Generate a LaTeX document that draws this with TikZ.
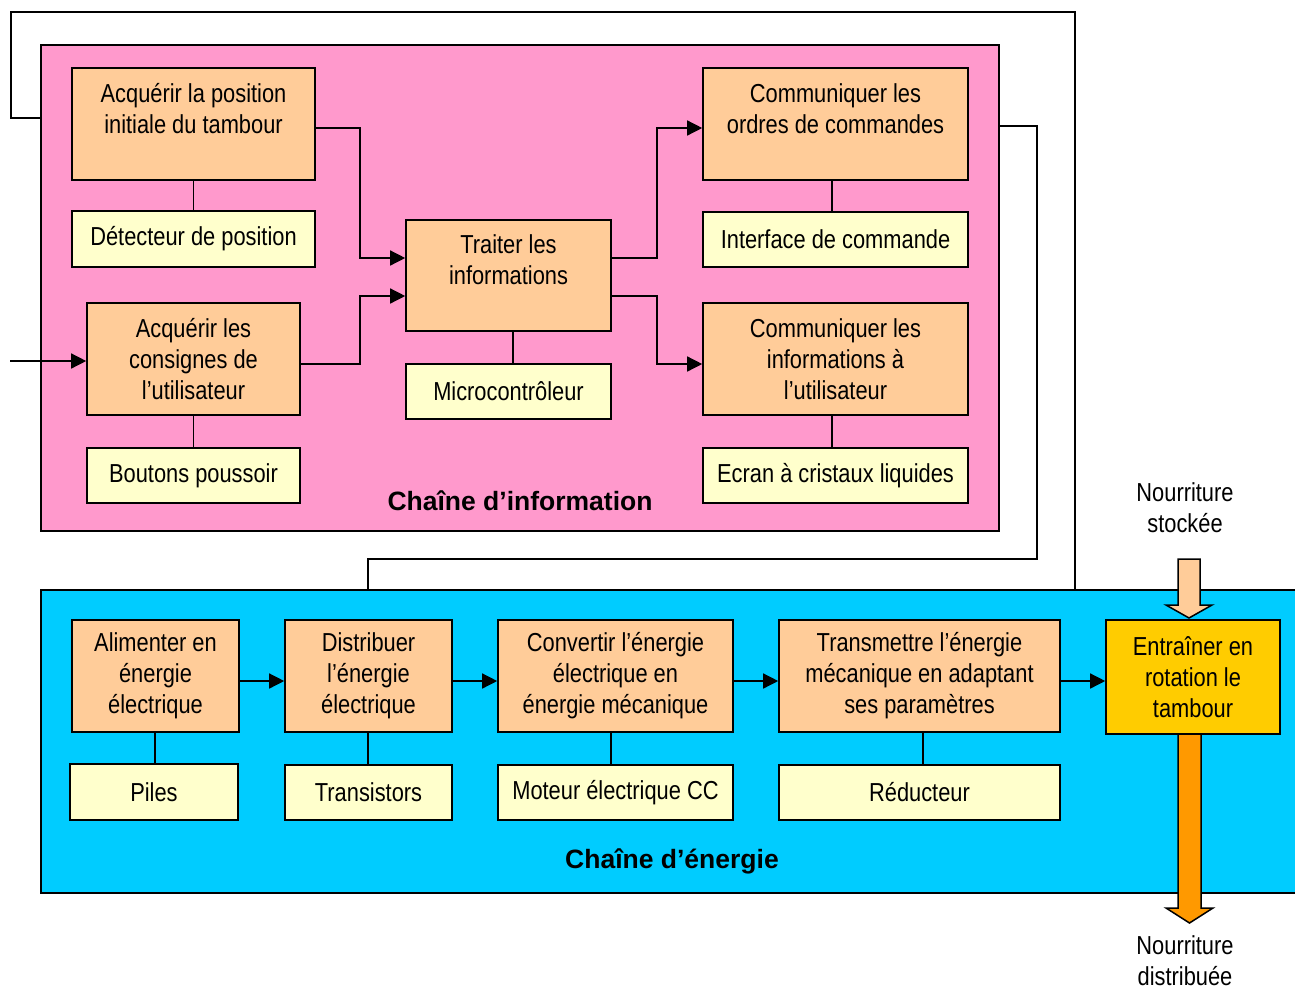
\documentclass[tikz,border=0pt]{standalone}
\usepackage{fontspec}
\setmainfont{Liberation Sans}[FakeStretch=0.84]
\newfontfamily\labfont{Liberation Sans}
\usetikzlibrary{arrows.meta}
\definecolor{peach}{HTML}{FFCC99}
\definecolor{lightyel}{HTML}{FFFFCC}
\definecolor{pinkbg}{HTML}{FF99CC}
\definecolor{bluebg}{HTML}{00CCFF}
\definecolor{gold}{HTML}{FFCC00}
\definecolor{orangearr}{HTML}{FF9900}
\tikzset{
  base/.style={draw=black, line width=1.6pt, inner sep=0pt, align=center,
    font=\fontsize{26}{31}\selectfont},
  fbox/.style={base, fill=peach},
  cbox/.style={base, fill=lightyel},
  frame/.style={draw=black, line width=1.5pt, inner sep=0pt},
  conn/.style={draw=black, line width=1.4pt},
  arr/.style={conn, -{Triangle[length=15pt,width=15pt]}},
  biglab/.style={font=\labfont\bfseries\fontsize{26.5}{31}\selectfont},
  txt/.style={align=center, font=\fontsize{26}{31}\selectfont},
  bigarrow/.style={draw=black, line width=1.5pt, line join=miter}
}
\begin{document}
\begin{tikzpicture}[x=1pt,y=-1pt]
\clip (0,0) rectangle (1295,991);
\fill[white] (0,0) rectangle (1295,991);

% frames
\node[frame, fill=pinkbg, minimum width=958pt, minimum height=486pt] (pinkf) at (520,288) {};
\node[frame, fill=bluebg, minimum width=1279pt, minimum height=303pt] (bluef) at (680.5,741.5) {};

% information chain
\node[fbox, minimum width=243pt, minimum height=112pt] (a1) at (193.5,124) {Acquérir la position\\initiale du tambour\\\mbox{}};
\node[cbox, minimum width=243pt, minimum height=56pt] (d1) at (193.5,239) {Détecteur de position};
\node[fbox, minimum width=213pt, minimum height=112pt] (a2) at (193.5,359) {Acquérir les\\consignes de\\l’utilisateur};
\node[cbox, minimum width=213pt, minimum height=55pt] (d2) at (193.5,475.5) {Boutons poussoir};
\node[fbox, minimum width=205pt, minimum height=111pt] (t) at (508.5,275.5) {Traiter les\\informations\\\mbox{}};
\node[cbox, minimum width=205pt, minimum height=55pt] (m) at (508.5,391.5) {Microcontrôleur};
\node[fbox, minimum width=265pt, minimum height=112pt] (c1) at (835.5,124) {Communiquer les\\ordres de commandes\\\mbox{}};
\node[cbox, minimum width=265pt, minimum height=55pt] (i1) at (835.5,239.5) {Interface de commande};
\node[fbox, minimum width=265pt, minimum height=112pt] (c2) at (835.5,359) {Communiquer les\\informations à\\l’utilisateur};
\node[cbox, minimum width=265pt, minimum height=55pt] (e) at (835.5,475.5) {Ecran à cristaux liquides};
\node[biglab] (linfo) at (520,501) {Chaîne d’information};

\draw[conn] (a1.south) -- (d1.north);
\draw[conn] (a2.south) -- (d2.north);
\draw[conn] (t.south -| 513,0) -- (m.north -| 513,0);
\draw[conn] (c1.south -| 832,0) -- (i1.north -| 832,0);
\draw[conn] (c2.south -| 832,0) -- (e.north -| 832,0);

\draw[arr] (a1.east |- 0,128) -- (360,128) |- (t.west |- 0,258);
\draw[arr] (a2.east |- 0,364) -- (360,364) |- (t.west |- 0,296);
\draw[arr] (t.east |- 0,258) -- (657,258) |- (c1.west |- 0,128);
\draw[arr] (t.east |- 0,296) -- (657,296) |- (c2.west |- 0,364);

\coordinate (inp) at (10,361);
\draw[arr] (inp) -- (a2.west |- inp);

% energy chain
\node[fbox, minimum width=167pt, minimum height=112pt] (b1) at (155.5,676) {Alimenter en\\énergie\\électrique};
\node[cbox, minimum width=168pt, minimum height=56pt] (p) at (154,792) {Piles};
\node[fbox, minimum width=167pt, minimum height=112pt] (b2) at (368.5,676) {Distribuer\\l’énergie\\électrique};
\node[cbox, minimum width=167pt, minimum height=55pt] (tr) at (368.5,792.5) {Transistors};
\node[fbox, minimum width=235pt, minimum height=112pt] (b3) at (615.5,676) {Convertir l’énergie\\électrique en\\énergie mécanique};
\node[cbox, minimum width=235pt, minimum height=55pt] (mo) at (615.5,792.5) {Moteur électrique CC};
\node[fbox, minimum width=281pt, minimum height=112pt] (b4) at (919.5,676) {Transmettre l’énergie\\mécanique en adaptant\\ses paramètres};
\node[cbox, minimum width=281pt, minimum height=55pt] (r) at (919.5,792.5) {Réducteur};

% big food arrows
\path[bigarrow, fill=orangearr] (1178,734) -- (1178,908) -- (1166,908) -- (1189.5,923) -- (1213,908) -- (1201,908) -- (1201,734);
\path[bigarrow, fill=peach] (1178,559) -- (1178,605) -- (1166,605) -- (1189,618) -- (1212,605) -- (1200,605) -- (1200,559) -- cycle;

\node[base, fill=gold, minimum width=174pt, minimum height=114pt] (b5) at (1193,677) {Entraîner en\\rotation le\\tambour};
\node[biglab] (lener) at (672,861) {Chaîne d’énergie};

\draw[conn] (b1.south -| 155,0) -- (p.north -| 155,0);
\draw[conn] (b2.south -| 368,0) -- (tr.north -| 368,0);
\draw[conn] (b3.south -| 611,0) -- (mo.north -| 611,0);
\draw[conn] (b4.south -| 923,0) -- (r.north -| 923,0);

\draw[arr] (b1.east |- 0,681) -- (b2.west |- 0,681);
\draw[arr] (b2.east |- 0,681) -- (b3.west |- 0,681);
\draw[arr] (b3.east |- 0,681) -- (b4.west |- 0,681);
\draw[arr] (b4.east |- 0,681) -- (b5.west |- 0,681);

\node[txt] (stock) at (1185,508) {Nourriture\\stockée};
\node[txt] (distr) at (1185,961) {Nourriture\\distribuée};

% links between chains
\draw[conn] (pinkf.west |- 0,118) -- (11,118) -- (11,12) -- (1075,12) -- (1075,12 |- bluef.north);
\draw[conn] (pinkf.east |- 0,126) -- (1037,126) -- (1037,559) -- (368,559) -- (368,559 |- bluef.north);
\end{tikzpicture}
\end{document}
